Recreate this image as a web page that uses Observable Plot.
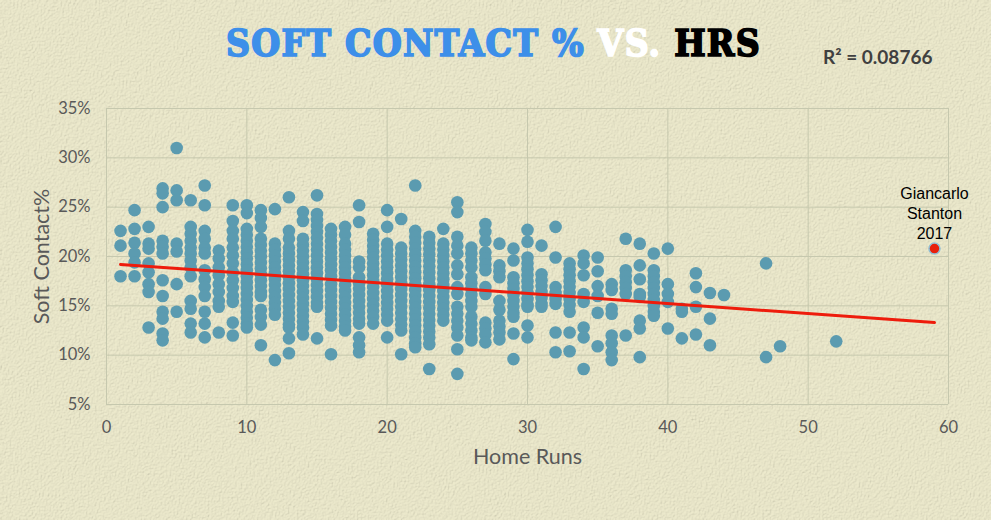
<!DOCTYPE html>
<html>
<head>
<meta charset="utf-8">
<script src="https://cdn.jsdelivr.net/npm/d3@7"></script>
<script src="https://cdn.jsdelivr.net/npm/@observablehq/plot@0.6"></script>
<style>
  html, body { margin: 0; padding: 0; }
  body { width: 991px; height: 520px; overflow: hidden; background: #e9e6c8; }
  #wrap { position: relative; width: 991px; height: 520px; }
  #texture { position: absolute; left: 0; top: 0; width: 991px; height: 520px; }
  #title { position: absolute; left: 0; top: 0; width: 991px; height: 80px; }
  #title .main { position: absolute; left: 226px; top: 20px; width: 540px; white-space: nowrap;
    font-family: "DejaVu Serif Condensed", "DejaVu Serif", serif; font-weight: 900; font-size: 37px; letter-spacing: 1.2px; line-height: 46px;
    -webkit-text-stroke: 1.6px currentColor; }
  #title .r2 { position: absolute; left: 823px; top: 45px; font-family: "Lato", sans-serif; font-weight: 700;
    font-size: 19px; color: #404040; }
  #chart { position: absolute; left: 0; top: 80px; }
</style>
</head>
<body>
<div id="wrap">
  <svg id="texture" width="991" height="520">
    <filter id="paper" x="0" y="0" width="100%" height="100%">
      <feTurbulence type="fractalNoise" baseFrequency="0.55" numOctaves="3" seed="4" result="n"/>
      <feDiffuseLighting in="n" lighting-color="#f1eed1" surfaceScale="1.1" result="l">
        <feDistantLight azimuth="225" elevation="65"/>
      </feDiffuseLighting>
    </filter>
    <rect width="991" height="520" filter="url(#paper)" opacity="0.6"/>
  </svg>
  <div id="title">
    <div class="main"><span style="color:#3d8fe9">SOFT CONTACT %</span> <span style="color:#ffffff">VS.</span> <span style="color:#000000">HRS</span></div>
    <div class="r2">R² = 0.08766</div>
  </div>
  <div id="chart"></div>
</div>
<script>
const homeRuns = [1,2,3,4,5,6,7,8,9,10,11,12,13,14,15,16,17,18,19,20,21,22,23,24,25,26,27,28,29,30,31,32,33,34,35,36,37,38,39,40,41,42,43,44,47,48,52];
const softContact = [
  [22.6, 21.1, 18.0],
  [24.7, 22.8, 21.4, 20.3, 19.4, 18.0],
  [23.0, 21.3, 20.8, 19.3, 18.4, 17.2, 16.4, 12.8],
  [26.9, 26.4, 25.0, 21.6, 21.0, 20.3, 17.6, 16.0, 14.4, 13.7, 12.2, 11.5],
  [31.0, 26.7, 25.7, 21.3, 20.5, 17.2, 14.4],
  [25.7, 23.0, 22.3, 21.6, 20.9, 20.3, 19.6, 18.9, 18.0, 15.5, 14.7, 13.2, 12.3],
  [27.2, 25.2, 22.6, 21.8, 20.9, 20.3, 18.6, 17.7, 16.9, 16.0, 14.4, 13.2, 11.8],
  [20.6, 19.8, 18.9, 18.1, 17.2, 16.4, 15.5, 14.9, 12.3],
  [25.2, 23.6, 22.6, 21.8, 20.9, 20.1, 19.3, 18.4, 17.6, 16.8, 16.0, 15.4, 13.3, 12.0],
  [25.2, 24.4, 22.8, 22.2, 21.6, 21.0, 20.4, 19.8, 19.2, 18.6, 18.0, 17.4, 16.8, 16.2, 15.6, 15.0, 14.4, 13.8, 13.2, 12.8],
  [24.7, 23.9, 23.0, 21.8, 21.2, 20.6, 20.0, 19.4, 18.8, 18.2, 17.6, 17.0, 16.4, 16.0, 14.6, 13.9, 13.1, 11.0],
  [24.8, 21.3, 20.7, 20.1, 19.5, 18.9, 18.3, 17.7, 17.1, 16.5, 15.9, 15.3, 14.7, 14.1, 9.5],
  [26.0, 22.6, 21.8, 20.9, 20.3, 19.7, 19.1, 18.5, 17.9, 17.3, 16.7, 16.1, 15.5, 14.9, 14.3, 13.7, 13.1, 12.8, 11.7, 10.2],
  [24.5, 23.6, 21.8, 21.2, 20.6, 20.0, 19.4, 18.8, 18.2, 17.6, 17.0, 16.4, 15.8, 15.2, 14.6, 14.0, 13.4, 12.8, 12.1],
  [26.2, 24.3, 23.7, 23.1, 22.5, 21.9, 21.3, 20.7, 20.1, 19.5, 18.9, 18.3, 17.7, 17.1, 16.5, 15.9, 15.3, 14.9, 11.7],
  [22.8, 22.2, 21.6, 21.0, 20.4, 19.8, 19.2, 18.6, 18.0, 17.2, 16.6, 16.0, 15.4, 14.8, 14.2, 13.6, 13.0, 10.1],
  [23.0, 22.2, 21.3, 20.7, 20.1, 19.5, 18.9, 18.3, 17.7, 17.1, 16.5, 15.9, 15.3, 14.7, 14.1, 13.5, 12.9, 12.5],
  [25.2, 23.5, 19.5, 18.9, 17.9, 17.3, 16.7, 16.1, 15.5, 14.9, 14.3, 13.7, 13.2, 11.8, 11.0, 10.3],
  [22.3, 21.7, 21.1, 20.5, 19.9, 19.3, 18.7, 18.1, 17.5, 16.9, 16.3, 15.7, 15.1, 14.5, 13.9, 13.2],
  [24.7, 23.0, 21.3, 20.7, 20.1, 19.5, 18.9, 18.3, 17.7, 17.1, 16.5, 15.9, 15.3, 14.7, 14.1, 13.5, 11.8],
  [23.8, 20.9, 20.3, 19.7, 19.1, 18.5, 17.9, 17.3, 16.7, 16.1, 15.5, 14.9, 14.3, 13.7, 13.1, 12.5, 10.1],
  [27.2, 22.6, 22.0, 21.4, 20.8, 20.2, 19.6, 19.0, 18.4, 17.8, 17.2, 16.6, 16.0, 15.4, 14.8, 14.2, 13.6, 13.0, 12.4, 11.8, 11.2, 10.8],
  [22.0, 21.4, 20.8, 20.2, 19.6, 19.0, 18.4, 17.8, 17.2, 16.6, 16.0, 15.4, 14.8, 14.2, 13.6, 13.0, 12.4, 11.8, 11.1, 8.6],
  [22.8, 21.3, 20.7, 20.1, 19.5, 18.9, 18.3, 17.7, 17.1, 16.5, 15.9, 15.3, 14.7, 14.1, 13.5],
  [25.5, 24.5, 22.0, 21.1, 20.3, 19.1, 18.2, 16.9, 16.2, 14.9, 14.2, 13.5, 12.8, 12.0, 10.6, 8.1],
  [20.9, 20.3, 19.6, 18.9, 17.9, 17.3, 16.7, 16.1, 15.5, 14.9, 13.9, 13.2, 12.5, 11.8, 11.5],
  [23.3, 22.5, 21.6, 20.4, 19.8, 19.2, 18.6, 16.9, 16.2, 13.3, 12.7, 12.1, 11.3],
  [21.3, 19.1, 18.5, 17.9, 15.5, 14.6, 13.5, 12.9, 12.3, 11.6],
  [20.8, 19.6, 17.9, 17.3, 16.7, 16.1, 15.5, 14.9, 14.3, 13.9, 12.2, 9.6],
  [22.7, 21.5, 19.9, 19.3, 18.7, 18.1, 17.5, 16.9, 16.3, 15.7, 15.1, 14.9, 13.0, 11.8],
  [21.1, 18.2, 17.6, 17.0, 16.4, 15.8, 15.2, 14.9],
  [23.0, 19.9, 16.9, 16.3, 15.7, 15.2, 12.3, 10.3],
  [19.3, 18.7, 18.1, 17.5, 16.9, 16.3, 15.7, 15.1, 14.4, 12.3, 10.4],
  [20.1, 19.3, 18.1, 16.2, 15.4, 12.8, 11.8, 8.6],
  [19.9, 18.5, 17.0, 16.0, 14.3, 10.9],
  [17.2, 16.6, 14.7, 14.2, 12.0, 11.2, 10.3, 9.5],
  [21.8, 18.6, 18.0, 17.4, 16.8, 16.2, 12.0],
  [21.3, 19.1, 17.7, 16.2, 15.9, 13.5, 12.7, 9.8],
  [20.3, 18.6, 18.0, 17.4, 16.8, 16.2, 15.6, 15.0, 14.4, 14.0],
  [20.8, 17.2, 16.2, 15.4, 12.7],
  [14.7, 14.4, 11.7],
  [18.3, 16.9, 14.9, 12.1],
  [16.3, 13.7, 11.0],
  [16.1],
  [19.3, 9.8],
  [10.9],
  [11.4]
];
const highlightHR = [59];
const highlightSoft = [20.8];
const highlightLabel = ["Giancarlo\nStanton\n2017"];
const trendHR = [1, 59];
const trendSoft = [19.2, 13.3];
const xTicks = [0, 10, 20, 30, 40, 50, 60];
const yTicks = [5, 10, 15, 20, 25, 30, 35];

const points = homeRuns.flatMap((h, i) => softContact[i].map(v => ({hr: h, soft: v})));
const highlight = highlightHR.map((h, i) => ({hr: h, soft: highlightSoft[i], label: highlightLabel[i]}));
const trend = trendHR.map((h, i) => ({hr: h, soft: trendSoft[i]}));

const gridColor = "#c6c8ae";
const textColor = "#595959";

const chart = Plot.plot({
  width: 991,
  height: 440,
  marginLeft: 106,
  marginRight: 43,
  marginTop: 28,
  marginBottom: 116,
  style: {background: "transparent", fontFamily: "Lato, sans-serif", color: textColor, overflow: "visible"},
  x: {domain: [0, 60], ticks: xTicks},
  y: {domain: [5, 35], ticks: yTicks},
  marks: [
    Plot.gridX(xTicks, {stroke: gridColor, strokeOpacity: 1, strokeWidth: 1}),
    Plot.gridY(yTicks, {stroke: gridColor, strokeOpacity: 1, strokeWidth: 1}),
    Plot.axisX(xTicks, {tickSize: 0, tickPadding: 17, fontSize: 16.5, fill: textColor, label: null}),
    Plot.axisY(yTicks, {tickSize: 0, tickPadding: 16, fontSize: 16.5, fill: textColor, label: null, tickFormat: d => d + "%"}),
    Plot.text(["Home Runs"], {frameAnchor: "bottom", dy: 59, fontSize: 21.5, fill: textColor}),
    Plot.text(["Soft Contact%"], {frameAnchor: "left", dx: -64, rotate: -90, textAnchor: "middle", fontSize: 21.5, fill: textColor}),
    Plot.dot(points, {x: "hr", y: "soft", r: 6.3, fill: "#5b9bb0", stroke: "none"}),
    Plot.line(trend, {x: "hr", y: "soft", stroke: "#ee1c0c", strokeWidth: 3}),
    Plot.dot(highlight, {x: "hr", y: "soft", r: 5.5, fill: "#e8200c", stroke: "#8fbfd6", strokeWidth: 1.5}),
    Plot.text(highlight, {x: "hr", y: "soft", text: "label", lineAnchor: "bottom", dy: -10, lineHeight: 1.25, fontSize: 16, fill: "#000", fontFamily: "Liberation Sans, Arial, sans-serif"})
  ]
});
document.getElementById("chart").appendChild(chart);
</script>
</body>
</html>
